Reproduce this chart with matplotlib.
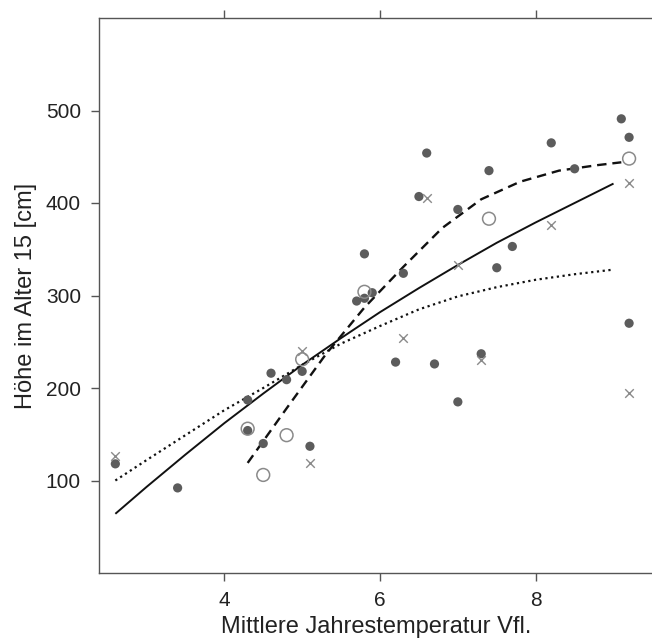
import numpy as np
import matplotlib.pyplot as plt

plt.rcParams['font.family'] = ['Liberation Sans', 'DejaVu Sans']

# Messpunkte
voll_x = [2.6, 3.4, 4.3, 4.3, 4.5, 4.6, 4.8, 5.0, 5.1, 5.7, 5.8, 5.9, 5.8, 6.3,
          6.2, 6.5, 6.6, 6.7, 7.0, 7.0, 7.3, 7.4, 7.5, 7.7, 8.2, 8.5, 9.1, 9.2, 9.2]
voll_y = [118, 92, 187, 154, 140, 216, 209, 218, 137, 294, 297, 303, 345, 324,
          228, 407, 454, 226, 393, 185, 237, 435, 330, 353, 465, 437, 491, 471, 270]

offen_x = [4.3, 4.5, 4.8, 5.0, 5.8, 7.4, 9.2]
offen_y = [156, 106, 149, 231, 304, 383, 448]

kreuz_x = [2.6, 5.0, 5.1, 6.3, 6.6, 7.0, 7.3, 8.2, 9.2, 9.2]
kreuz_y = [126, 240, 119, 254, 405, 333, 230, 376, 422, 195]

linie_x = [2.6, 3.0, 3.5, 4.0, 4.5, 5.0, 5.5, 6.0, 6.5, 7.0, 7.5, 8.0, 8.5, 9.0]
linie_y = [64, 93, 128, 162, 194, 225, 254, 282, 308, 333, 357, 379, 400, 421]

strich_x = [4.3, 4.8, 5.3, 5.8, 6.3, 6.8, 7.3, 7.8, 8.3, 8.8, 9.1]
strich_y = [119, 178, 236, 287, 331, 373, 404, 423, 435, 441, 444]

punkt_x = [2.6, 3.0, 3.5, 4.0, 4.5, 5.0, 5.5, 6.0, 6.5, 7.0, 7.5, 8.0, 8.5, 9.0]
punkt_y = [100, 122, 149, 176, 200, 225, 248, 267, 285, 299, 309, 317, 323, 328]

fig = plt.figure(figsize=(6.52, 6.44), dpi=100)
ax = fig.add_axes([99 / 652, 71 / 644, 555 / 652, 555 / 644])

ax.plot(linie_x, linie_y, color='#111111', lw=1.4, solid_capstyle='butt')
ax.plot(strich_x, strich_y, color='#111111', lw=1.7, dashes=(4, 2.5))
ax.plot(punkt_x, punkt_y, color='#111111', lw=1.6, dashes=(1, 1.6))

ax.scatter(voll_x, voll_y, s=44, color='#5c5c5c', edgecolors='none', zorder=3)
ax.scatter(offen_x, offen_y, s=85, facecolors='none', edgecolors='#8a8a8a',
           linewidths=1.1, zorder=3)
ax.scatter(kreuz_x, kreuz_y, s=38, marker='x', color='#8a8a8a',
           linewidths=1.0, zorder=3)

ax.set_xlim(2.39, 9.52)
ax.set_ylim(0, 600)
ax.set_xticks([4, 6, 8])
ax.set_yticks([100, 200, 300, 400, 500])

for s in ax.spines.values():
    s.set_color('#555555')
    s.set_linewidth(1.0)

ax.tick_params(axis='both', direction='out', length=6, width=1.0,
               color='#555555', labelsize=15, labelcolor='#222222')
ax.tick_params(axis='x', pad=7)
ax.tick_params(axis='y', pad=7)
ax.tick_params(top=True, right=True, labeltop=False, labelright=False)

ax.set_xlabel('Mittlere Jahrestemperatur Vfl.', fontsize=17,
              color='#222222', labelpad=4)
ax.set_ylabel('Höhe im Alter 15 [cm]', fontsize=17, color='#222222',
              labelpad=6)

plt.savefig('out.png', dpi=100)
